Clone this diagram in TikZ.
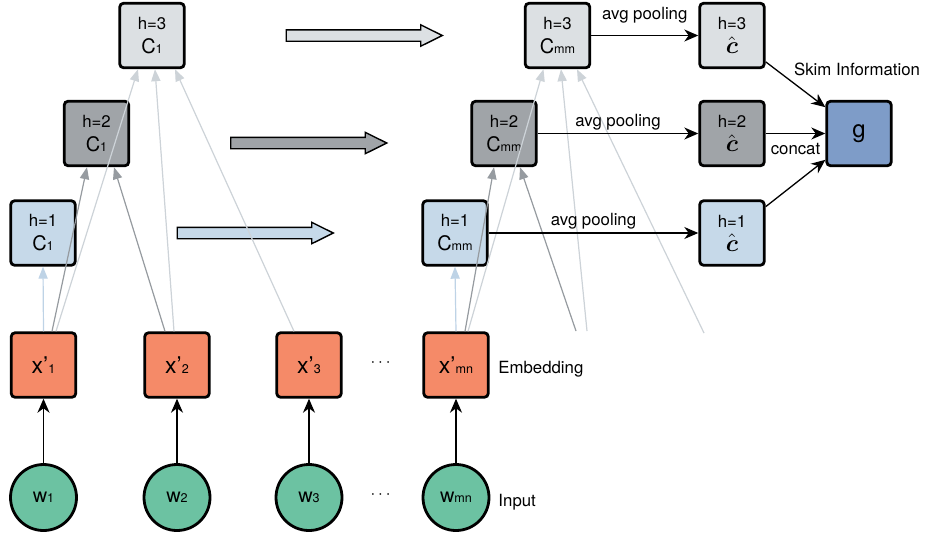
\documentclass[tikz,border=0pt]{standalone}
\usepackage{fontspec}
\usepackage{amsmath}
\setmainfont{TeX Gyre Heros}
\usetikzlibrary{arrows.meta,shapes.arrows,positioning}

\definecolor{hblue}{RGB}{198,217,233}
\definecolor{hdark}{RGB}{160,164,168}
\definecolor{hlight}{RGB}{220,224,227}
\definecolor{hblueline}{RGB}{190,211,230}
\definecolor{hdarkline}{RGB}{150,155,160}
\definecolor{hlightline}{RGB}{205,211,216}
\definecolor{embedfill}{RGB}{245,138,104}
\definecolor{wordfill}{RGB}{108,194,162}
\definecolor{gfill}{RGB}{126,156,200}

\newcommand{\idx}[1]{{\fontsize{6.3}{7}\selectfont #1}}
\newcommand{\cbig}{{\fontsize{10}{10}\selectfont C}}
\newcommand{\chat}{{\fontsize{11.5}{12}\selectfont$\hat{\boldsymbol{c}}$}}

\begin{document}
\begin{tikzpicture}[x=0.5pt, y=-0.5pt,
    box/.style={rectangle, draw, line width=1.4pt, rounded corners=2pt, minimum width=32.3pt, minimum height=32.3pt, inner sep=0pt, align=center, font=\fontsize{8.4}{12}\selectfont},
    emb/.style={box, fill=embedfill, font=\fontsize{11.5}{12}\selectfont},
    word/.style={circle, draw, line width=1.4pt, minimum size=33pt, inner sep=0pt, fill=wordfill, font=\fontsize{10}{10}\selectfont},
    lbl/.style={inner sep=0pt, font=\fontsize{8.4}{10}\selectfont},
    fwd/.style={-{Stealth[length=7pt, width=6pt, inset=2.2pt]}, line width=0.65pt},
    conv/.style={-{Triangle[length=6pt, width=4.6pt]}, line width=0.6pt},
    hone/.style={conv, draw=hblueline, fill=hblueline},
    htwo/.style={conv, draw=hdarkline, fill=hdarkline},
    hthree/.style={conv, draw=hlightline, fill=hlightline},
    bigarrow/.style={single arrow, draw, line width=0.7pt, minimum height=78pt, single arrow head extend=2.5pt, single arrow tip angle=53, inner sep=0pt}
]
    \useasboundingbox (0,0) rectangle (948,537);

    % Input words
    \node[word] (w1) at (43.5,497.5) {w\idx{1}};
    \node[word] (w2) at (177,497.5) {w\idx{2}};
    \node[word] (w3) at (309,497.5) {w\idx{3}};
    \node[word] (wmn) at (456,497.5) {w\idx{mn}};

    % Embeddings
    \node[emb] (x1) at (43.5,365) {x’\idx{1}};
    \node[emb] (x2) at (177,365) {x’\idx{2}};
    \node[emb] (x3) at (309,365) {x’\idx{3}};
    \node[emb] (xmn) at (456,365) {x’\idx{mn}};

    \node[lbl] (dotsx) at (382,363) {$\cdots$};
    \node[lbl] (dotsw) at (382,495) {$\cdots$};
    \node[lbl, anchor=base west] (emblbl) at (498,373) {Embedding};
    \node[lbl, anchor=base west] (inlbl) at (498,506) {Input};

    % Convolutions, first sentence
    \node[box, fill=hblue] (c1a) at (43,233) {h=1\\\cbig\idx{1}};
    \node[box, fill=hdark] (c2a) at (96.5,133.5) {h=2\\\cbig\idx{1}};
    \node[box, fill=hlight] (c3a) at (152,35.5) {h=3\\\cbig\idx{1}};

    % Convolutions, last sentence
    \node[box, fill=hblue] (c1b) at (455,233) {h=1\\\cbig\idx{mm}};
    \node[box, fill=hdark] (c2b) at (504,133.5) {h=2\\\cbig\idx{mm}};
    \node[box, fill=hlight] (c3b) at (557.5,35.5) {h=3\\\cbig\idx{mm}};

    % Pooled features
    \node[box, fill=hblue] (hat1) at (732,233) {h=1\\\chat};
    \node[box, fill=hdark] (hat2) at (732,133.5) {h=2\\\chat};
    \node[box, fill=hlight] (hat3) at (732,35.5) {h=3\\\chat};
    \node[box, fill=gfill, font=\fontsize{12}{12}\selectfont] (g) at (859,133.5) {g};

    % Hollow arrows
    \node[bigarrow, fill=hblue] (go1) at (249.5,233) {\rule{0pt}{5pt}};
    \node[bigarrow, fill=hdark] (go2) at (303,143) {\rule{0pt}{5pt}};
    \node[bigarrow, fill=hlight] (go3) at (358.5,35.5) {\rule{0pt}{5pt}};

    % Words to embeddings
    \draw[fwd] (w1) -- (x1);
    \draw[fwd] (w2) -- (x2);
    \draw[fwd] (w3) -- (x3);
    \draw[fwd] (wmn) -- (xmn);

    % Windows of the first sentence
    \draw[hone] (x1.north) -- (c1a.south);
    \draw[htwo] ([xshift=4.25pt]x1.north) -- ([xshift=-4.75pt]c2a.south);
    \draw[hthree] ([xshift=6.25pt]x1.north) -- ([xshift=-7pt]c3a.south);
    \draw[htwo] ([xshift=-6pt]x2.north) -- ([xshift=8.75pt]c2a.south);
    \draw[hthree] ([xshift=-1.5pt]x2.north) -- ([xshift=1.5pt]c3a.south);
    \draw[hthree] ([xshift=-7.5pt]x3.north) -- ([xshift=11.5pt]c3a.south);

    % Windows of the last sentence
    \coordinate (nextA) at (576,331);
    \coordinate (nextB) at (587,331);
    \coordinate (nextC) at (704,333);
    \draw[hone] (xmn.north) -- (c1b.south);
    \draw[htwo] ([xshift=4.5pt]xmn.north) -- ([xshift=-5pt]c2b.south);
    \draw[hthree] ([xshift=6pt]xmn.north) -- ([xshift=-7pt]c3b.south);
    \draw[htwo] (nextA) -- ([xshift=8pt]c2b.south);
    \draw[hthree] (nextB) -- ([xshift=1.75pt]c3b.south);
    \draw[hthree] (nextC) -- ([xshift=9.75pt]c3b.south);

    % Pooling and concat
    \draw[fwd] (c3b) -- node[lbl, anchor=base, yshift=7.8pt] (pool3) {avg pooling} (hat3);
    \draw[fwd] (c2b) -- node[lbl, anchor=base, yshift=3.6pt] (pool2) {avg pooling} (hat2);
    \draw[fwd] (c1b) -- node[lbl, anchor=base, yshift=4pt] (pool1) {avg pooling} (hat1);
    \draw[fwd] (hat3.-38) -- (g.142);
    \draw[fwd] (hat2) -- node[lbl, anchor=base, yshift=-10.5pt] (cat) {concat} (g);
    \draw[fwd] (hat1.38) -- (g.-142);
    \node[lbl, anchor=base] (skim) at (857,75) {Skim Information};
\end{tikzpicture}
\end{document}
